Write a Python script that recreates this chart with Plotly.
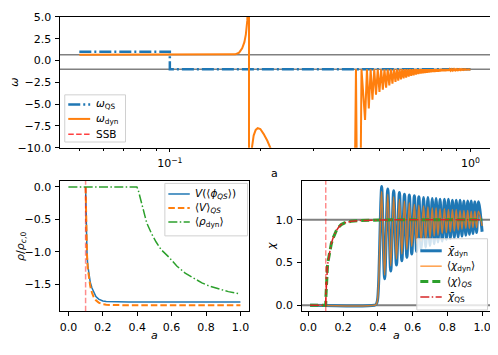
import math
import plotly.graph_objects as go

# page is 498x355; the html body keeps its default 8px margin, so the figure is 490x347
# and every position below is given in page pixels, then shifted by that margin
PAGE_OFF = 8
FW, FH = 490, 347
C0, C1, C2, C3 = "#1f77b4", "#ff7f0e", "#2ca02c", "#d62728"


def fx(x):
    return (x - PAGE_OFF) / FW


def fy(y):
    return 1 - (y - PAGE_OFF) / FH


# ---------------- top panel: equation of state w(a), log a axis
a_ssb = 0.1
w_ref_lines = [2 / 3, -1.0]

a_w_qs = [0.05, 0.1, 0.1, 1.0]
w_qs = [1.0, 1.0, -1.0, -1.0]

a_w_dyn = [
    0.05, 0.08, 0.1, 0.13, 0.15, 0.16, 0.165, 0.17, 0.174, 0.177, 0.179, 0.181, 0.1825, 0.1832,
    0.1836, 0.1855, 0.187, 0.19, 0.193, 0.196, 0.2, 0.205, 0.211, 0.219, 0.23, 0.26, 0.32, 0.38,
    0.405, 0.416, 0.425, 0.434,
    0.446, 0.4525, 0.459, 0.4655, 0.472, 0.4785, 0.485, 0.4915, 0.498, 0.5045,
    0.511, 0.5175, 0.524, 0.5305, 0.537, 0.5435, 0.550, 0.5565, 0.563, 0.569,
    0.575, 0.581, 0.587, 0.593, 0.599, 0.605, 0.611, 0.617, 0.623, 0.629,
    0.635, 0.641, 0.647, 0.653, 0.659, 0.665, 0.671, 0.677, 0.683, 0.6885,
    0.694, 0.6995, 0.705, 0.7105, 0.716, 0.7215, 0.727, 0.7325, 0.738, 0.7435,
    0.749, 0.7545, 0.760, 0.7655, 0.771, 0.7765, 0.782, 0.7875, 0.793, 0.7985,
    0.804, 0.8095, 0.815, 0.8205, 0.826, 0.8315, 0.837, 0.8425, 0.848, 0.8535,
    0.859, 0.8645, 0.870, 0.8755, 0.881, 0.8865, 0.892, 0.8975, 0.903, 0.9085,
    0.914, 0.9195, 0.925, 0.9305, 0.936, 0.9415, 0.947, 0.9525, 0.958, 0.9635,
    0.969, 0.9745, 0.980, 0.9855, 0.991, 1.0,
]
w_dyn = [
    0.667, 0.667, 0.667, 0.668, 0.672, 0.68, 0.71, 0.9, 1.4, 2.1, 3.0, 4.6, 8.0, 40.0,
    -60.0, -14.0, -10.3, -8.6, -7.95, -7.75, -7.85, -8.4, -9.2, -10.5, -13.0, -20.0, -35.0, -45.0,
    -40.0, -1.0, -40.0, -1.0,
    -6.8, -1.0, -5.5, -1.0, -4.5, -1.0, -3.9, -1.0, -3.6, -1.0,
    -3.35, -1.0, -3.1, -1.0, -2.85, -1.0, -2.65, -1.0, -2.45, -1.0,
    -2.3, -1.0, -2.17, -1.0, -2.05, -1.0, -1.95, -1.0, -1.85, -1.0,
    -1.76, -1.0, -1.68, -1.0, -1.6, -1.0, -1.55, -1.0, -1.5, -1.0,
    -1.46, -1.0, -1.42, -1.0, -1.39, -1.0, -1.36, -1.0, -1.34, -1.0,
    -1.32, -1.0, -1.30, -1.0, -1.28, -1.0, -1.26, -1.0, -1.24, -1.0,
    -1.22, -1.0, -1.21, -1.0, -1.2, -1.0, -1.18, -1.0, -1.17, -1.0,
    -1.15, -1.0, -1.14, -1.0, -1.13, -1.0, -1.12, -1.0, -1.11, -1.0,
    -1.1, -1.0, -1.09, -1.0, -1.08, -1.0, -1.07, -1.0, -1.06, -1.0,
    -1.05, -1.0, -1.04, -1.0, -1.04, -1.0,
]

# ---------------- bottom left: energy densities
a_V = [0.1, 0.1015, 0.103, 0.105, 0.108, 0.112, 0.118, 0.127, 0.137, 0.147, 0.16, 0.176,
       0.2, 0.22, 0.26, 0.35, 1.0]
V_of_phi_qs = [0.0, -0.3, -0.55, -0.78, -1.0, -1.2, -1.35, -1.47, -1.56, -1.63, -1.69, -1.73,
               -1.76, -1.768, -1.773, -1.775, -1.775]
V_mean_qs = [0.0, -0.31, -0.57, -0.8, -1.03, -1.24, -1.4, -1.53, -1.63, -1.70, -1.75, -1.785,
             -1.81, -1.818, -1.822, -1.825, -1.825]

a_rho = [0.0, 0.398, 0.405, 0.412, 0.42, 0.428, 0.436, 0.445, 0.456, 0.47, 0.485, 0.51, 0.54,
         0.583, 0.63, 0.679, 0.73, 0.776, 0.82, 0.873, 0.93, 1.0]
rho_dyn = [0.0, 0.0, -0.04, -0.12, -0.2, -0.28, -0.36, -0.45, -0.56, -0.65, -0.73, -0.85, -0.97,
           -1.08, -1.22, -1.33, -1.41, -1.48, -1.53, -1.575, -1.615, -1.65]

# ---------------- bottom right: field chi
a_chi_qs = [0.01, 0.1, 0.101, 0.103, 0.106, 0.11, 0.114, 0.119, 0.124, 0.132, 0.14, 0.15,
            0.16, 0.175, 0.189, 0.21, 0.246, 0.3, 0.36, 0.5, 1.0]
chi_mean_qs = [0.0, 0.0, 0.1, 0.25, 0.38, 0.46, 0.52, 0.59, 0.645, 0.72, 0.775, 0.83,
               0.87, 0.915, 0.944, 0.965, 0.982, 0.992, 0.997, 1.0, 1.0]
chi_bar_qs = [0.0, 0.0, 0.1, 0.25, 0.38, 0.46, 0.52, 0.59, 0.645, 0.72, 0.775, 0.83,
              0.87, 0.915, 0.944, 0.965, 0.982, 0.992, 0.997, 1.0, 1.0]

a_chi_dyn = [
    0.01, 0.38, 0.39, 0.397, 0.403, 0.408, 0.413, 0.418, 0.422,
    0.439, 0.457, 0.474, 0.491, 0.507, 0.524, 0.538, 0.553, 0.567, 0.581,
    0.595, 0.610, 0.623, 0.636, 0.649, 0.663, 0.675, 0.688, 0.700, 0.713,
    0.724, 0.735, 0.746, 0.758, 0.770, 0.783, 0.794, 0.806, 0.817, 0.829,
    0.840, 0.851, 0.862, 0.873, 0.884, 0.895, 0.906, 0.917, 0.927, 0.937,
    0.947, 0.958, 0.968, 0.979, 1.0,
]
chi_bar_dyn = [
    0.0, 0.0, 0.01, 0.05, 0.2, 0.5, 0.9, 1.25, 1.39,
    0.31, 1.36, 0.40, 1.34, 0.47, 1.32, 0.52, 1.30, 0.56, 1.29,
    0.60, 1.28, 0.63, 1.27, 0.66, 1.26, 0.68, 1.26, 0.70, 1.25,
    0.72, 1.25, 0.74, 1.24, 0.75, 1.24, 0.77, 1.24, 0.78, 1.23,
    0.79, 1.23, 0.80, 1.23, 0.81, 1.22, 0.82, 1.22, 0.83, 1.22,
    0.84, 1.21, 0.85, 1.21, 0.86,
]
chi_mean_dyn = [
    0.0, 0.0, 0.01, 0.05, 0.2, 0.5, 0.88, 1.2, 1.33,
    0.35, 1.30, 0.46, 1.27, 0.54, 1.24, 0.60, 1.22, 0.65, 1.20,
    0.69, 1.18, 0.72, 1.17, 0.75, 1.16, 0.77, 1.15, 0.79, 1.14,
    0.81, 1.14, 0.82, 1.13, 0.84, 1.13, 0.85, 1.12, 0.86, 1.12,
    0.87, 1.12, 0.88, 1.11, 0.89, 1.11, 0.90, 1.11, 0.90, 1.10,
    0.91, 1.10, 0.91, 1.10, 0.93,
]
chi_ref_lines = [0.0, 1.0]

# ---------------- styles
DASH = "5.5px,2.4px"
DASHDOT = "9px,2.4px,1.5px,2.4px"
st_wqs = dict(color=C0, width=2.5, dash="12px,3px,2px,3px")
st_wdyn = dict(color=C1, width=2)
st_ssb_top = dict(color="rgba(255,0,0,0.75)", width=1.5, dash=DASH)
st_ssb_low = dict(color="rgba(255,0,0,0.45)", width=1.5, dash=DASH)
st_V = dict(color=C0, width=1.5)
st_Vm = dict(color=C1, width=2, dash="6.5px,3px")
st_rho = dict(color=C2, width=1.5, dash=DASHDOT)
st_cbd = dict(color=C0, width=3, shape="spline")
st_cmd = dict(color="rgba(255,127,14,0.75)", width=1.5, shape="spline")
st_cmq = dict(color=C2, width=3, dash="8px,4px")
st_cbq = dict(color=C3, width=1.5, dash=DASHDOT)

fig = go.Figure()


def line(x, y, style, xa, ya):
    fig.add_trace(go.Scatter(x=x, y=y, mode="lines", line=style, xaxis=xa, yaxis=ya,
                             showlegend=False, hoverinfo="skip"))


line(a_w_qs, w_qs, st_wqs, "x", "y")
line(a_w_dyn, w_dyn, st_wdyn, "x", "y")
line(a_V, V_of_phi_qs, st_V, "x2", "y2")
line(a_V, V_mean_qs, st_Vm, "x2", "y2")
line(a_rho, rho_dyn, st_rho, "x2", "y2")
line(a_chi_dyn, chi_bar_dyn, st_cbd, "x3", "y3")
line(a_chi_dyn, chi_mean_dyn, st_cmd, "x3", "y3")
line(a_chi_qs, chi_mean_qs, st_cmq, "x3", "y3")
line(a_chi_qs, chi_bar_qs, st_cbq, "x3", "y3")

# reference lines
for w in w_ref_lines:
    fig.add_shape(type="line", xref="x domain", yref="y", x0=0, x1=1, y0=w, y1=w,
                  line=dict(color="gray", width=1.5), layer="below")
for c in chi_ref_lines:
    fig.add_shape(type="line", xref="x3 domain", yref="y3", x0=0, x1=1, y0=c, y1=c,
                  line=dict(color="gray", width=2), layer="below")
fig.add_shape(type="line", xref="x", yref="y domain", x0=math.log10(a_ssb), x1=math.log10(a_ssb),
              y0=0, y1=1, line=st_ssb_top)
for xr, yr in (("x2", "y2 domain"), ("x3", "y3 domain")):
    fig.add_shape(type="line", xref=xr, yref=yr, x0=a_ssb, x1=a_ssb, y0=0, y1=1, line=st_ssb_low)


# ---------------- hand-made legends (matplotlib-like compact boxes)
def legend_box(box, rows, s0, s1, tx):
    x0, y0, x1, y1 = box
    fig.add_shape(type="rect", xref="paper", yref="paper", x0=fx(x0), x1=fx(x1),
                  y0=fy(y1), y1=fy(y0), line=dict(color="#d0d0d0", width=1),
                  fillcolor="rgba(255,255,255,0.8)")
    for text, y, st in rows:
        st = {k: v for k, v in st.items() if k != "shape"}
        fig.add_shape(type="line", xref="paper", yref="paper", x0=fx(x0 + s0), x1=fx(x0 + s1),
                      y0=fy(y), y1=fy(y), line=st)
        fig.add_annotation(x=fx(x0 + tx), y=fy(y), xref="paper", yref="paper", text=text,
                           showarrow=False, xanchor="left", yanchor="middle", font=dict(size=10.5))


legend_box((63, 92, 124, 141), [
    ("<i>ω</i><sub>QS</sub>", 102, st_wqs),
    ("<i>ω</i><sub>dyn</sub>", 117, st_wdyn),
    ("SSB", 133, st_ssb_top),
], 3.5, 25.5, 29.5)

legend_box((163.5, 184, 246.5, 238.5), [
    ("<i>V</i>(⟨<i>ϕ</i><sub><i>QS</i></sub>⟩)", 195, st_V),
    ("⟨<i>V</i>⟩<sub><i>QS</i></sub>", 209.5, st_Vm),
    ("⟨<i>ρ</i><sub>dyn</sub>⟩", 224, st_rho),
], 3.5, 25, 28.5)

legend_box((416.5, 241.5, 487.5, 315.5), [
    ("<i>χ̄</i><sub>dyn</sub>", 254, st_cbd),
    ("⟨<i>χ</i><sub>dyn</sub>⟩", 270, st_cmd),
    ("⟨<i>χ</i>⟩<sub><i>QS</i></sub>", 286, st_cmq),
    ("<i>χ̄</i><sub>QS</sub>", 302, st_cbq),
], 3.5, 25, 28.5)


# ---------------- axis titles
def label(text, x, y, angle=0):
    fig.add_annotation(x=fx(x), y=fy(y), xref="paper", yref="paper", text=text,
                       showarrow=False, textangle=angle, xanchor="center", yanchor="middle",
                       font=dict(size=11))


label("a", 274, 174)
label("<i>ω</i>", 12.5, 79, -90)
label("<i>a</i>", 153, 341.5)
label("<i>ρ</i>/<i>ρ</i><sub><i>c</i>,0</sub>", 19, 249, -90)
label("<i>a</i>", 396, 342)
label("<i>χ</i>", 271, 249, -90)

# ---------------- axes
ax = dict(showline=True, mirror=True, linecolor="black", linewidth=0.8, ticks="outside",
          ticklen=3.5, tickwidth=0.8, tickcolor="black", showgrid=False, zeroline=False,
          tickfont=dict(size=11), ticklabelstandoff=2, ticklabeloverflow="allow")

minor_log = [0.05, 0.06, 0.07, 0.08, 0.09, 0.2, 0.3, 0.4, 0.5, 0.6, 0.7, 0.8, 0.9]

fig.update_layout(
    width=FW, height=FH, margin=dict(l=0, r=0, t=0, b=0),
    paper_bgcolor="white", plot_bgcolor="white",
    font=dict(family="DejaVu Sans", size=11, color="black"),
    xaxis=dict(ax, domain=[fx(58), fx(490)], anchor="y", type="log", range=[-1.366, 0.065],
               tickmode="array", tickvals=[0.1, 1.0], ticktext=["10<sup>−1</sup>", "10<sup>0</sup>"],
               minor=dict(tickmode="array", tickvals=minor_log, ticks="outside", ticklen=2,
                          tickwidth=0.6, tickcolor="black")),
    yaxis=dict(ax, domain=[fy(147), fy(11)], anchor="x", range=[-10, 5],
               dtick=2.5, tickformat=".1f"),
    xaxis2=dict(ax, domain=[fx(58), fx(248)], anchor="y2", range=[-0.05, 1.05],
                dtick=0.2, tickformat=".1f"),
    yaxis2=dict(ax, domain=[fy(316.7), fy(181.5)], anchor="x2", range=[-1.916, 0.091],
                dtick=0.5, tickformat=".1f"),
    xaxis3=dict(ax, domain=[fx(300.7), fx(490.7)], anchor="y3", range=[-0.0395, 1.0495],
                dtick=0.2, tickformat=".1f"),
    yaxis3=dict(ax, domain=[fy(316.7), fy(181.5)], anchor="x3", range=[-0.069, 1.454],
                dtick=0.5, tickformat=".1f"),
)

fig.write_html("out.html")
